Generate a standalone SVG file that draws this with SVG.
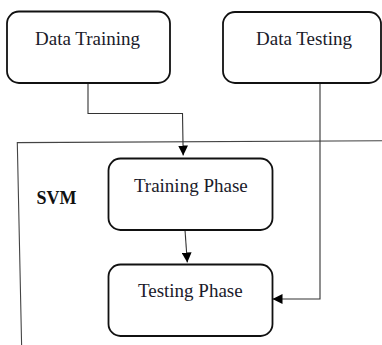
<svg xmlns="http://www.w3.org/2000/svg" width="382" height="345" viewBox="0 0 382 345">
<style>
.box{fill:#fff;stroke:#111;stroke-width:1.8}
.lbl{font-family:'Liberation Serif','DejaVu Serif',serif;font-size:19px;fill:#1a1a2a;text-anchor:middle}
.svm{font-family:'Liberation Serif','DejaVu Serif',serif;font-size:18px;font-weight:bold;fill:#111}
.conn{fill:none;stroke:#333;stroke-width:1.1}
.frame{fill:none;stroke:#444;stroke-width:1.1}
</style>
<defs>
<marker id="arr" viewBox="0 0 10 10" refX="10" refY="5" markerWidth="10" markerHeight="10" markerUnits="userSpaceOnUse" orient="auto">
<path d="M0,0 L10,5 L0,10 Z" fill="#000"/>
</marker>
</defs>
<rect width="382" height="345" fill="#fff"/>
<g id="svm-frame">
<path class="frame" d="M382,140.7 L17.3,142.6 L21.6,345"/>
<text class="svm" x="36.5" y="204" font-family="Liberation Serif, serif">SVM</text>
</g>
<g id="connectors">
<path class="conn" d="M88,83 L88,113.5 L182.5,113.5 L183.2,155.5" marker-end="url(#arr)"/>
<path class="conn" d="M185,230 L187.3,262.5" marker-end="url(#arr)"/>
<path class="conn" d="M320,83 L320,299 L272.5,299" marker-end="url(#arr)"/>
</g>
<g id="data-training">
<rect class="box" x="7" y="11.5" width="163" height="71.5" rx="12"/>
<text class="lbl" x="87.5" y="44.5" font-family="Liberation Serif, serif">Data Training</text>
</g>
<g id="data-testing">
<rect class="box" x="223" y="12" width="158" height="71" rx="12"/>
<text class="lbl" x="304" y="45" font-family="Liberation Serif, serif">Data Testing</text>
</g>
<g id="training-phase">
<rect class="box" x="108.5" y="158.5" width="164" height="71.5" rx="12"/>
<text class="lbl" x="190.8" y="192" font-family="Liberation Serif, serif">Training Phase</text>
</g>
<g id="testing-phase">
<rect class="box" x="108.5" y="264.5" width="164" height="71.5" rx="12"/>
<text class="lbl" x="190.3" y="297" font-family="Liberation Serif, serif">Testing Phase</text>
</g>
</svg>
